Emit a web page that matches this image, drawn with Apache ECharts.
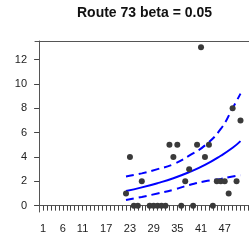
<!DOCTYPE html>
<html>
<head>
<meta charset="utf-8">
<script src="https://cdn.jsdelivr.net/npm/echarts@6/dist/echarts.min.js"></script>
<style>html,body{margin:0;padding:0;background:#fff}#c{width:249px;height:242px}</style>
</head>
<body>
<div id="c"></div>
<script>
var titleText = "Route 73 beta = 0.05";
var years = [22,23,24,25,26,28,29,30,31,32,33,34,35,36,37,38,39,40,41,42,43,44,45,46,47,48,49,50,51];
var counts = [1,4,0,0,2,0,0,0,0,0,5,4,5,0,2,3,0,5,13,4,5,0,2,2,2,1,8,2,7];
var curveX = [22,26,30,34,38,42,46,49,51];
var fitY = [1.2,1.5,1.85,2.25,2.75,3.35,4.1,4.75,5.3];
var upperY = [2.4,2.65,3.0,3.4,4.1,4.95,6.3,8.0,9.2];
var lowerY = [0.47,0.72,1.0,1.3,1.7,2.0,2.2,2.4,2.5];
var xLabels = [1,6,11,17,23,29,35,41,47];
var xTicks = [];
for (var i = 1; i <= 53; i++) xTicks.push(i);
var yLabels = [0,2,4,6,8,10,12];

function pairs(xs, ys){ return xs.map(function(x,i){ return [x, ys[i]]; }); }

var chart = echarts.init(document.getElementById('c'), null, {renderer:'canvas'});
var font = 'Liberation Sans, Arial, sans-serif';
var frame = { show: true, lineStyle: { color: '#555', width: 1 } };
chart.setOption({
  animation: false,
  graphic: [{
    type: 'text', x: 144.5, y: 13,
    style: { text: titleText, font: 'bold 14px ' + font, fill: '#111', align: 'center', verticalAlign: 'middle' }
  }],
  grid: { left: 35, top: 41, right: 0, bottom: 30, show: false },
  xAxis: [{
    type: 'value', min: -1.04, max: 53.15, position: 'bottom',
    axisLine: frame,
    splitLine: { show: false },
    axisTick: { show: true, customValues: xTicks, length: 5, lineStyle: { color: '#444', width: 1 } },
    axisLabel: { customValues: xLabels, margin: 11, fontSize: 11, color: '#222', fontFamily: font }
  }, {
    type: 'value', min: -1.04, max: 53.15, position: 'top',
    axisLine: frame, splitLine: { show: false }, axisTick: { show: false }, axisLabel: { show: false }
  }],
  yAxis: {
    type: 'value', min: -0.52, max: 13.52,
    axisLine: frame,
    splitLine: { show: false },
    axisTick: { show: true, customValues: yLabels, length: 5, lineStyle: { color: '#444', width: 1 } },
    axisLabel: { customValues: yLabels, margin: 8, fontSize: 11, color: '#222', fontFamily: font }
  },
  series: [
    { type: 'line', data: pairs(curveX, upperY), smooth: true, showSymbol: false, lineStyle: { color: '#0000ff', width: 2, type: [8,5] }, z: 2 },
    { type: 'line', data: pairs(curveX, lowerY), smooth: true, showSymbol: false, lineStyle: { color: '#0000ff', width: 2, type: [8,5] }, z: 2 },
    { type: 'line', data: pairs(curveX, fitY), smooth: true, showSymbol: false, lineStyle: { color: '#0000ff', width: 2 }, z: 2 },
    { type: 'scatter', data: pairs(years, counts), symbolSize: 6, itemStyle: { color: '#3a3a3a', opacity: 1 }, z: 3 }
  ]
});
</script>
</body>
</html>
